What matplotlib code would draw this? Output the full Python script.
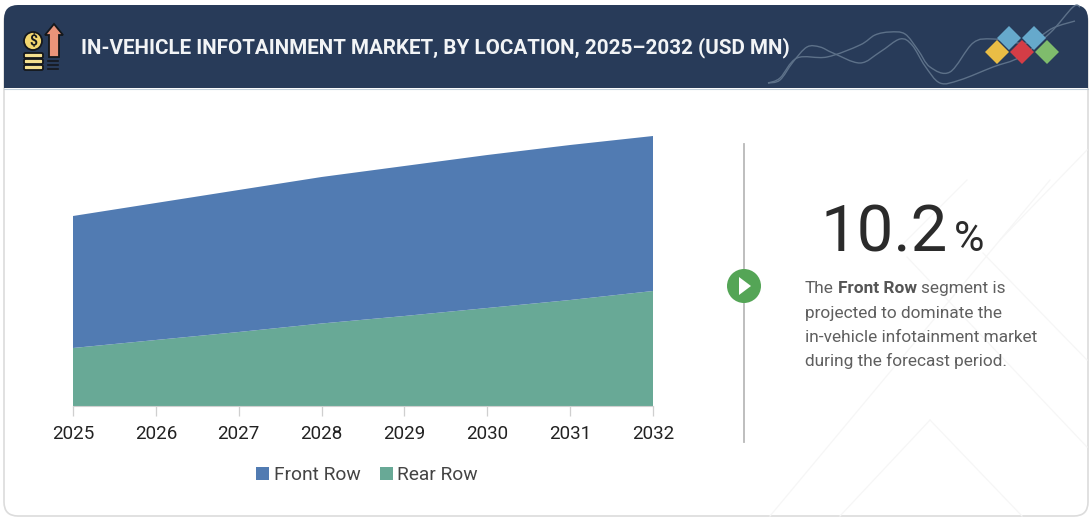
import matplotlib
matplotlib.use("Agg")
import matplotlib.pyplot as plt
from matplotlib.patches import FancyBboxPatch, Circle, Polygon, Rectangle, PathPatch
from matplotlib.path import Path

plt.rcParams['font.family'] = ['Roboto', 'DejaVu Sans']

years = [2025, 2026, 2027, 2028, 2029, 2030, 2031, 2032]
rear_row = [58, 66, 74, 82.5, 90, 98, 106, 115]
front_row = [132, 137, 142, 146.5, 150, 153, 155, 155]
series_names = ["Rear Row", "Front Row"]

W, H = 1092, 520
BLUE = "#517bb2"
GREEN = "#68a996"
NAVY = "#283b59"


def smooth_path(pts):
    # catmull-rom through the points, just for the header decoration
    verts = [pts[0]]
    codes = [Path.MOVETO]
    for i in range(len(pts) - 1):
        p0 = pts[max(i - 1, 0)]
        p1 = pts[i]
        p2 = pts[i + 1]
        p3 = pts[min(i + 2, len(pts) - 1)]
        c1 = (p1[0] + (p2[0] - p0[0]) / 6, p1[1] + (p2[1] - p0[1]) / 6)
        c2 = (p2[0] - (p3[0] - p1[0]) / 6, p2[1] - (p3[1] - p1[1]) / 6)
        verts += [c1, c2, p2]
        codes += [Path.CURVE4] * 3
    return Path(verts, codes)


def diamond(cx, cy, r, color):
    return Polygon([(cx - r, cy), (cx, cy - r), (cx + r, cy), (cx, cy + r)], closed=True, fc=color, ec="none", zorder=4)


fig = plt.figure(figsize=(W / 100, H / 100), dpi=100, facecolor="white")

# pixel canvas for the card, header and side text
bg = fig.add_axes([0, 0, 1, 1])
bg.set_xlim(0, W)
bg.set_ylim(H, 0)
bg.axis("off")

bg.add_patch(FancyBboxPatch((4, 8), 1084, 508, boxstyle="round,pad=0,rounding_size=14",
                            fc="white", ec="#dcdcdc", lw=1.2))

# faint background lines
for a, b in [((770, 516), (1050, 180)), ((907, 257), (1087, 447)), ((983, 253), (1087, 360)),
             ((967, 180), (900, 247)), ((840, 516), (930, 420)), ((930, 420), (1022, 516)),
             ((1087, 150), (1000, 240))]:
    bg.plot([a[0], b[0]], [a[1], b[1]], color="#f6f6f6", lw=0.9, zorder=1)

# header band, rounded at top only
bg.add_patch(FancyBboxPatch((4, 5), 1084, 60, boxstyle="round,pad=0,rounding_size=14", fc=NAVY, ec="none", zorder=2))
bg.add_patch(Rectangle((4, 30), 1084, 58, fc=NAVY, ec="none", zorder=2))
bg.plot([4, 1088], [88.5, 88.5], color="#c4d0da", lw=0.8, zorder=2)

wave_a = [(768, 83), (780, 80), (793, 62), (807, 47), (820, 47), (833, 53), (860, 63), (880, 52), (900, 39),
          (912, 45), (925, 66), (940, 83), (960, 80), (993, 67), (1020, 57), (1050, 33), (1073, 7), (1080, 7)]
wave_b = [(768, 83), (780, 78), (797, 58), (827, 57), (860, 45), (875, 35), (890, 32), (905, 34), (918, 50),
          (930, 67), (950, 72), (973, 43), (993, 39), (1027, 43), (1053, 28), (1075, 21)]
for w in (wave_a, wave_b):
    bg.add_patch(PathPatch(smooth_path(w), fc="none", ec="#5d7189", lw=1.0, zorder=3))

bg.add_patch(diamond(1009, 38, 12, "#66a9cc"))
bg.add_patch(diamond(1034, 38, 12, "#66a9cc"))
bg.add_patch(diamond(997, 52, 12, "#eabd45"))
bg.add_patch(diamond(1022, 52, 12, "#d43d46"))
bg.add_patch(diamond(1047, 52, 12, "#7fbc6c"))

# coin and arrow icon
ICON_EC = "#15181c"
bg.add_patch(Circle((33, 41), 9, fc="#f2d66f", ec=ICON_EC, lw=1.3, zorder=5))
bg.text(33, 41, "$", color=ICON_EC, fontsize=10, fontweight="bold", ha="center", va="center", zorder=6)
for y in (53, 59, 65):
    bg.add_patch(FancyBboxPatch((24, y), 19, 5, boxstyle="round,pad=0,rounding_size=1.5",
                                fc="#f4e08f", ec=ICON_EC, lw=1.3, zorder=5))
bg.add_patch(Polygon([(54, 24), (63, 35), (59, 35), (59, 57), (49, 57), (49, 35), (45, 35)], closed=True,
                     fc="#ea9479", ec=ICON_EC, lw=1.3, zorder=5))
for y in (61, 65, 69):
    bg.plot([48, 58], [y, y], color=ICON_EC, lw=1.2, zorder=5)

bg.text(81, 48, "IN-VEHICLE INFOTAINMENT MARKET, BY LOCATION, 2025\u20132032 (USD MN)",
        color="#f2f4f6", fontsize=14.9, fontweight="bold", va="center", ha="left", zorder=6)

# divider and play marker
bg.plot([744, 744], [144, 442], color="#b9b9b9", lw=1.3, zorder=2)
bg.add_patch(Circle((744, 286), 17, fc="#54a556", ec="none", zorder=3))
bg.add_patch(Polygon([(739, 277), (751, 286), (739, 295)], closed=True, fc="white", ec="none", zorder=4))

# callout
bg.text(821, 252, "10.2", color="#2b2b2b", fontsize=47, fontweight="normal", ha="left", va="baseline", zorder=5)
bg.text(954, 251, "%", color="#2b2b2b", fontsize=30, fontweight="normal", ha="left", va="baseline", zorder=5)

TXT = "#5f5f5f"
BODY = 12.4
bg.text(805, 293, "The", color=TXT, fontsize=BODY, va="baseline", zorder=5)
bg.text(838, 293, "Front Row", color="#555555", fontsize=BODY, fontweight="bold", va="baseline", zorder=5)
bg.text(921, 293, "segment is", color=TXT, fontsize=BODY, va="baseline", zorder=5)
bg.text(805, 318, "projected to dominate the", color=TXT, fontsize=BODY, va="baseline", zorder=5)
bg.text(805, 342, "in-vehicle infotainment market", color=TXT, fontsize=BODY, va="baseline", zorder=5)
bg.text(805, 366, "during the forecast period.", color=TXT, fontsize=BODY, va="baseline", zorder=5)

# the chart itself
ax = fig.add_axes([73 / W, 1 - 406 / H, 580 / W, 280 / H])
ax.patch.set_alpha(0)
ax.stackplot(years, rear_row, front_row, colors=[GREEN, BLUE], labels=series_names, lw=0)
ax.set_xlim(2025, 2032)
ax.set_ylim(0, 280)
ax.set_xticks(years)
ax.set_yticks([])
for s in ("top", "left", "right"):
    ax.spines[s].set_visible(False)
ax.spines["bottom"].set_color("#d0d0d0")
ax.tick_params(axis="x", length=7, width=0.9, color="#cfcfcf", labelsize=13.5, labelcolor="#222222", pad=7)

handles, labels = ax.get_legend_handles_labels()
ax.legend(handles[::-1], labels[::-1], loc="center", bbox_to_anchor=(367 / W, 1 - 475 / H), bbox_transform=fig.transFigure,
          ncol=2, frameon=False, fontsize=13.8, labelcolor="#444444", handlelength=0.68, handleheight=0.68,
          handletextpad=0.25, columnspacing=1.0, borderpad=0)

fig.savefig("out.png", dpi=100)
